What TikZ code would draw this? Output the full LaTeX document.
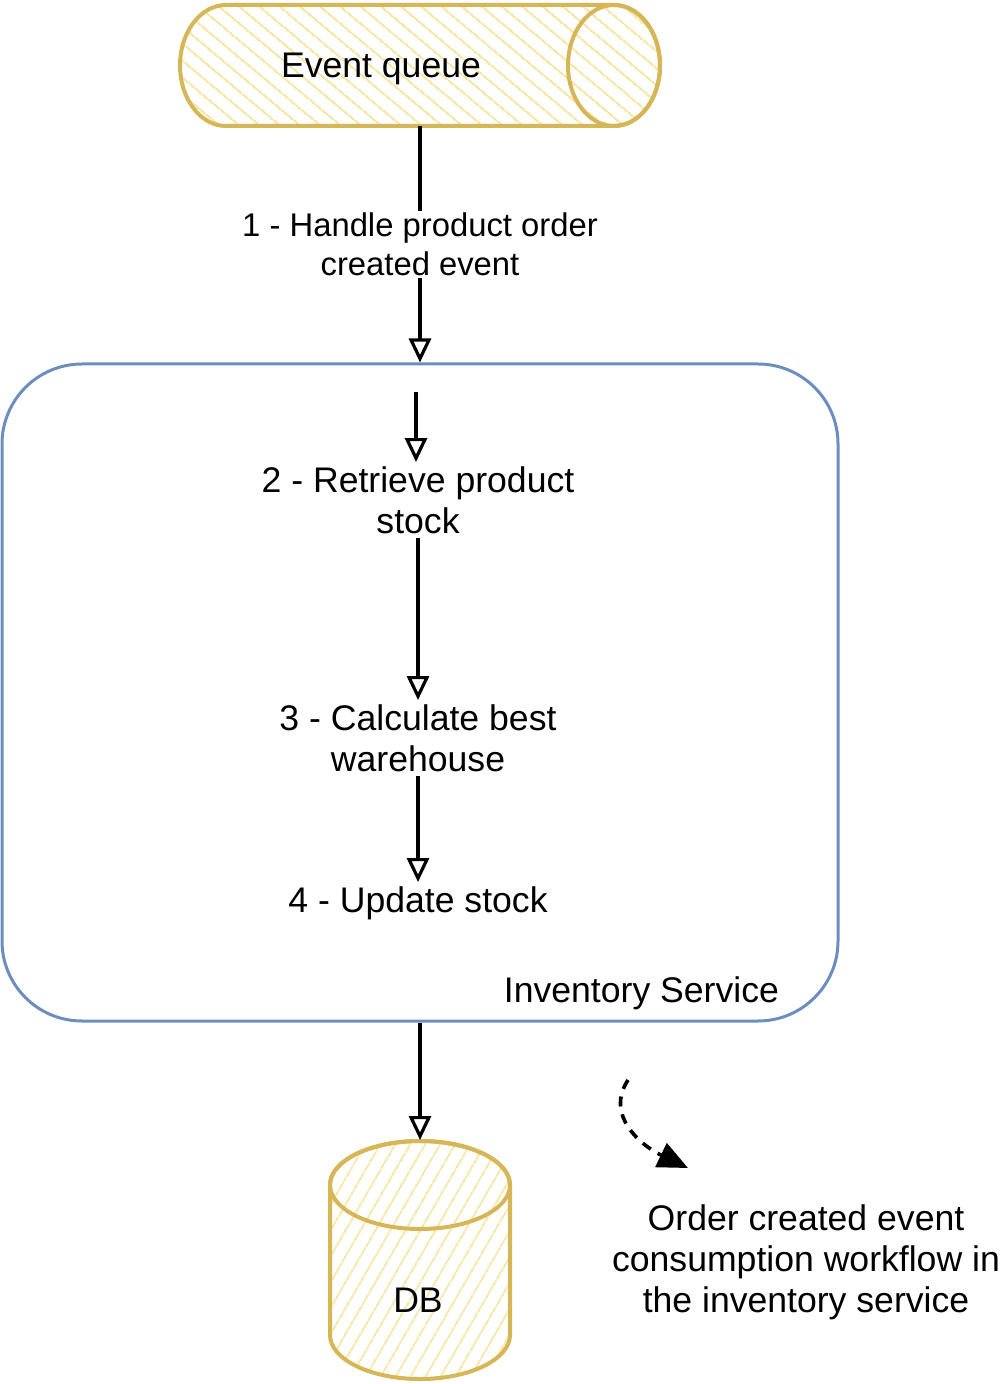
\documentclass[tikz,border=0pt]{standalone}
\usepackage{fontspec}
\setmainfont{Liberation Sans}
\usetikzlibrary{positioning,arrows.meta,patterns.meta}
\definecolor{storeline}{HTML}{D6B656}
\definecolor{storefill}{HTML}{F8E6A6}
\definecolor{svcline}{HTML}{6C8EBF}

\begin{document}
\begin{tikzpicture}[x=0.5pt, y=-0.5pt, font=\fontsize{17.8}{20.5}\selectfont, arrow/.style={-{Triangle[open,length=12pt,width=11pt]}, line width=1.6pt}, store/.style={draw=storeline, line width=2pt, pattern color=storefill}, holder/.style={inner sep=0pt, outer sep=0pt}, action/.style={align=center, inner sep=2pt}, servicebox/.style={draw=svcline, line width=1.5pt, rectangle, rounded corners=40pt, minimum width=418pt, minimum height=328.5pt}]
        \useasboundingbox (0,0) rectangle (1004,1384);

        % event queue, lying cylinder
        \path[store, pattern={Lines[angle=-40,distance=6.5pt,line width=1pt]}] (614,5) -- (226,5) arc[start angle=90, end angle=270, x radius=23pt, y radius=30.25pt] -- (614,126) arc[start angle=-90, end angle=90, x radius=23pt, y radius=30.25pt] -- cycle;
        \draw[store] (614,65.5) ellipse[x radius=23pt, y radius=30.25pt];
        \node [holder, minimum width=240pt, minimum height=60.5pt] (queue) at (420,65.5) {};
        \node (queuelabel) at (381,69) {Event queue};

        \node [servicebox] (inventory) at (420,692.5) {};
        \node [anchor=east] (invlabel) at (786,993) {Inventory Service};

        \coordinate (start) at (416,392);
        \node [action] (retrieve) at (418,500) {2 - Retrieve product\\stock};
        \node [action] (calc) at (418,738) {3 - Calculate best\\warehouse};
        \node [action] (update) at (418,903) {4 - Update stock};

        % database, standing cylinder
        \path[store, pattern={Lines[angle=60,distance=6.5pt,line width=1pt]}] (330,1185) -- (330,1335) arc[start angle=180, end angle=360, x radius=45pt, y radius=22pt] -- (510,1185) arc[start angle=0, end angle=180, x radius=45pt, y radius=22pt] -- cycle;
        \draw[store] (420,1185) ellipse[x radius=45pt, y radius=22pt];
        \node [holder, minimum width=90pt, minimum height=119pt] (db) at (420,1259) {};
        \node (dblabel) at (418,1300) {DB};

        \draw[arrow] (queue.south) -- node[fill=white, align=center, inner sep=1pt, font=\fontsize{16.4}{19.5}\selectfont] {1 - Handle product order\\created event} (inventory.north -| queue.south);
        \draw[arrow] (start) -- (retrieve.north -| start);
        \draw[arrow] (retrieve.south) -- (calc.north);
        \draw[arrow] (calc.south) -- (update.north);
        \draw[arrow] (inventory.south) -- (db.north);

        \coordinate (curlstart) at (628,1080);
        \coordinate (curlend) at (688,1168);
        \draw[-{Triangle[length=15pt,width=13pt]}, line width=1.8pt, dash pattern=on 5pt off 4pt] (curlstart) .. controls (605,1115) and (640,1145) .. (curlend);
        \node [align=center] (note) at (806,1262) {Order created event\\consumption workflow in\\the inventory service};

    \end{tikzpicture}
\end{document}
